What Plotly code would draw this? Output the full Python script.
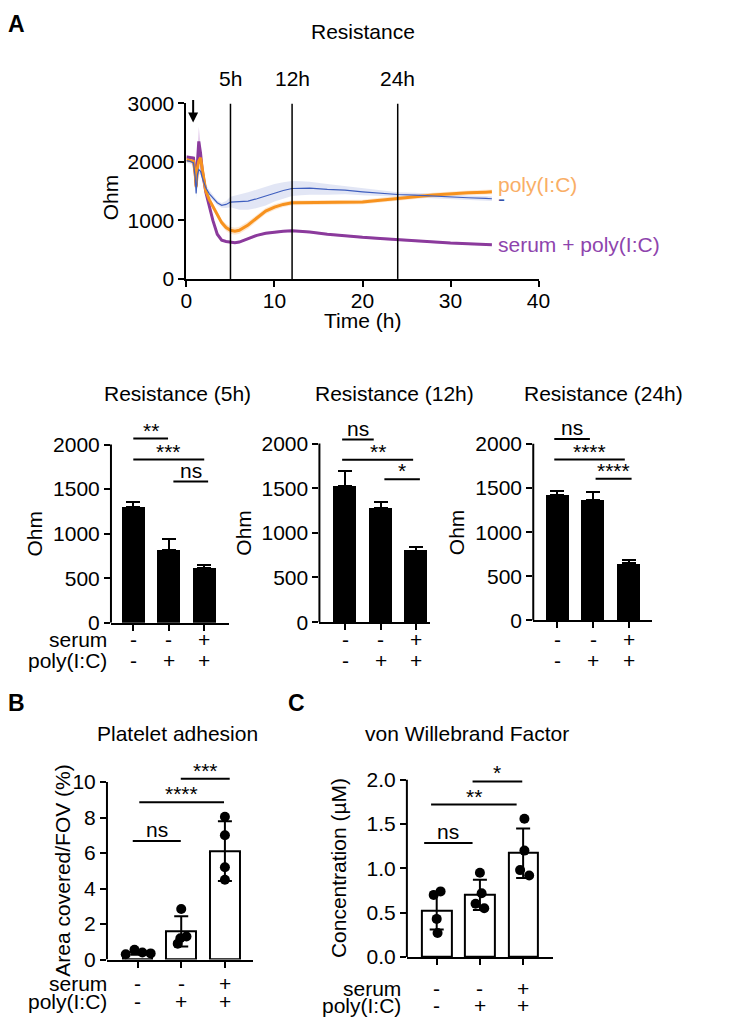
import plotly.graph_objects as go

W, H = 733, 1026
FONT = "Liberation Sans, Arial, Helvetica, sans-serif"
FS = 21
# The photographed page comes out slightly shrunk about its centre; positions
# taken from the reference are mapped through the inverse of that shrink.
SHRINK = 0.978
CX, CY = W / 2, H / 2

def px(x):
    return (CX + (x - CX) / SHRINK) / W

def py(y):
    return 1 - (CY + (y - CY) / SHRINK) / H

# ---------------- Panel A data (Resistance over time) ----------------
time_h = [0, 0.4, 0.8, 1.0, 1.1, 1.25, 1.4, 1.6, 1.8, 2.2, 2.6, 3.0, 3.5, 4.0, 4.5,
          5, 5.5, 6, 7, 8, 9, 10, 11, 12, 13, 14, 16, 18, 20, 22, 24, 26, 28, 30,
          32, 34, 34.7]
ctrl_mean = [2020, 2010, 1981, 1726, 1460, 1783, 1868, 1840, 1726, 1556, 1455, 1387,
             1302, 1257, 1273, 1313, 1319, 1313, 1330, 1370, 1415, 1472, 1511, 1545,
             1550, 1550, 1530, 1517, 1489, 1460, 1443, 1432, 1421, 1398, 1387, 1375,
             1370]
ctrl_sem = [40, 40, 40, 60, 80, 80, 80, 60, 60, 60, 60, 50, 40, 40, 60, 90, 110, 130,
            150, 160, 160, 150, 140, 130, 120, 110, 90, 70, 60, 50, 40, 40, 40, 40,
            40, 40, 40]
pic_mean = [2038, 2020, 2010, 1783, 1570, 1896, 2010, 2070, 1896, 1500, 1350, 1240,
            1104, 962, 877, 832, 815, 832, 922, 1047, 1160, 1228, 1273, 1300, 1302,
            1307, 1307, 1310, 1315, 1345, 1380, 1404, 1432, 1455, 1472, 1483, 1489]
pic_sem = [40, 40, 40, 50, 60, 60, 60, 50, 50, 50, 50, 50, 50, 55, 60, 60, 60, 60, 60,
           55, 50, 50, 45, 40, 40, 40, 40, 40, 40, 40, 40, 40, 40, 40, 40, 40, 40]
serpic_mean = [2083, 2080, 2066, 1800, 1594, 2000, 2350, 2150, 1850, 1480, 1250, 1000,
               764, 662, 640, 623, 617, 630, 690, 745, 780, 800, 815, 822, 812, 800,
               765, 735, 710, 690, 668, 651, 630, 612, 600, 590, 585]
serpic_sem = [30, 30, 30, 60, 100, 200, 250, 150, 80, 40, 30, 25, 20, 20, 20, 20, 20,
              20, 20, 20, 20, 20, 20, 20, 20, 20, 20, 20, 20, 20, 20, 20, 20, 20, 20,
              20, 20]
timepoints = [5, 12, 24]
timepoint_labels = ["5h", "12h", "24h"]
arrow_time = 0.76

# ---------------- Bar panels (A lower row) ----------------
groups = [0, 1, 2]
serum_signs = ["-", "-", "+"]
polyic_signs = ["-", "+", "+"]

res5_mean = [1296, 820, 615]
res5_err = [64, 124, 33]
res12_mean = [1522, 1276, 802]
res12_err = [176, 67, 37]
res24_mean = [1426, 1366, 649]
res24_err = [45, 94, 38]

sig5 = dict(x0=[0.0, 0.0, 1.13], x1=[0.98, 2.0, 2.11], level=[2067, 1831, 1584],
            label=["**", "***", "ns"])
sig12 = dict(x0=[-0.09, -0.09, 1.10], x1=[0.80, 1.91, 2.10], level=[2045, 1817, 1600],
             label=["ns", "**", "*"])
sig24 = dict(x0=[-0.09, -0.09, 1.07], x1=[0.91, 1.89, 2.08], level=[2056, 1822, 1604],
             label=["ns", "****", "****"])

# ---------------- Panel B (platelet adhesion) ----------------
plt_mean = [0.40, 1.59, 6.11]
plt_sd = [0.12, 0.85, 1.68]
plt_points = [[0.30, 0.55, 0.40, 0.35], [2.85, 1.30, 0.90, 1.20], [8.05, 7.00, 5.20, 4.50]]
plt_jitter = [[-0.27, -0.07, 0.11, 0.30], [0.0, 0.12, -0.08, -0.02], [0.0, 0.0, 0.0, 0.0]]
sigB = dict(x0=[-0.11, 0.04, 0.99], x1=[0.99, 1.98, 2.11], level=[6.68, 8.87, 10.19],
            label=["ns", "****", "***"])

# ---------------- Panel C (vWF) ----------------
vwf_mean = [0.52, 0.70, 1.17]
vwf_sd = [0.21, 0.17, 0.28]
vwf_points = [[0.74, 0.70, 0.43, 0.27], [0.95, 0.72, 0.60, 0.55], [1.56, 1.20, 0.98, 0.92]]
vwf_jitter = [[0.09, -0.07, 0.0, 0.02], [0.0, 0.04, -0.10, 0.10], [0.03, 0.03, -0.07, 0.14]]
sigC = dict(x0=[-0.29, -0.13, 0.83], x1=[0.83, 1.85, 1.98], level=[1.285, 1.72, 1.98],
            label=["ns", "**", "*"])

fig = go.Figure()
annotations = []
shapes = []


def ann(text, x, y, size=FS, xref="paper", yref="paper", xanchor="center",
        yanchor="middle", color="black", angle=0, bold=False, **kw):
    if bold:
        text = "<b>%s</b>" % text
    d = dict(text=text, x=x, y=y, xref=xref, yref=yref, xanchor=xanchor,
             yanchor=yanchor, showarrow=False, textangle=angle, borderpad=0,
             font=dict(family=FONT, size=size, color=color))
    d.update(kw)
    annotations.append(d)


# ---------------- Panel A line chart ----------------
series = [
    (ctrl_mean, ctrl_sem, "#3F5FBF", 1.2, "rgba(150,165,220,0.28)"),
    (pic_mean, pic_sem, "#F7921E", 3, "rgba(250,185,120,0.35)"),
    (serpic_mean, serpic_sem, "#8B3A9C", 3, "rgba(200,150,215,0.45)"),
]
for m, s, c, w, band in series:
    upper = [a + b for a, b in zip(m, s)]
    lower = [a - b for a, b in zip(m, s)]
    fig.add_trace(go.Scatter(x=time_h, y=upper, mode="lines", line=dict(width=0),
                             hoverinfo="skip", xaxis="x", yaxis="y"))
    fig.add_trace(go.Scatter(x=time_h, y=lower, mode="lines", line=dict(width=0),
                             fill="tonexty", fillcolor=band, hoverinfo="skip",
                             xaxis="x", yaxis="y"))
for m, s, c, w, band in [series[2], series[1], series[0]]:
    fig.add_trace(go.Scatter(x=time_h, y=m, mode="lines", line=dict(color=c, width=w),
                             xaxis="x", yaxis="y"))

for t, lab in zip(timepoints, timepoint_labels):
    shapes.append(dict(type="line", xref="x", yref="y", x0=t, x1=t, y0=0, y1=3000,
                       line=dict(color="black", width=1.5)))
    ann(lab, t, py(78), xref="x")

# end labels for series
ann("poly(I:C)", time_h[-1], pic_mean[-1], xref="x", yref="y", xanchor="left",
    color="#F9AE66", xshift=5, yshift=7)
ann("-", time_h[-1], ctrl_mean[-1], xref="x", yref="y", xanchor="left",
    color="#3450A8", xshift=5, yshift=0)
ann("serum + poly(I:C)", time_h[-1], serpic_mean[-1], xref="x", yref="y",
    xanchor="left", color="#8E44AD", xshift=5, yshift=0)

# arrow marking addition
annotations.append(dict(x=arrow_time, y=2675, xref="x", yref="y", showarrow=True,
                        ax=0, ay=-24, arrowhead=2, arrowsize=1, arrowwidth=2,
                        arrowcolor="black", text=""))

ann("Resistance", px(365.5), py(31))
ann("Time (h)", px(365.5), py(320))
ann("Ohm", px(113), py(197), angle=-90)
ann("A", px(18.5), py(23), size=23, bold=True)
ann("B", px(19), py(703), size=23, bold=True)
ann("C", px(299), py(703), size=23, bold=True)

axis_common = dict(showgrid=False, zeroline=False, ticks="outside", ticklen=6,
                   tickwidth=2, tickcolor="black", linecolor="black", linewidth=2,
                   tickfont=dict(family=FONT, size=FS, color="black"))

layout_axes = {}
layout_axes["xaxis"] = dict(axis_common, domain=[px(189), px(542)], range=[0, 40],
                            tickvals=[0, 10, 20, 30, 40], showline=True, anchor="y",
                            ticklabelstandoff=-4)
layout_axes["yaxis"] = dict(axis_common, domain=[py(278.3), py(102.7)], range=[0, 3000],
                            tickvals=[0, 1000, 2000, 3000], showline=True, anchor="x")


def bar_panel(n, xl, xr, yzero, ytop_px, ytop_val, yext, xrange, tickvals, tickfmt,
              ytitle, ytitle_x, title, title_x, title_y, row_y, row_labels,
              label_right):
    sc = (yzero - ytop_px) / ytop_val
    top = yzero - yext * sc
    layout_axes["xaxis%d" % n] = dict(axis_common, domain=[px(xl), px(xr)],
                                       range=xrange, tickvals=groups,
                                       showticklabels=False, showline=True,
                                       anchor="y%d" % n)
    layout_axes["yaxis%d" % n] = dict(axis_common, domain=[py(yzero), py(top)],
                                       range=[0, yext], tickvals=tickvals,
                                       tickformat=tickfmt, showline=False,
                                       anchor="x%d" % n)
    shapes.append(dict(type="line", xref="x%d domain" % n, yref="y%d" % n,
                       x0=0, x1=0, y0=0, y1=ytop_val,
                       line=dict(color="black", width=2)))
    ann(ytitle, px(ytitle_x), py((yzero + ytop_px) / 2), angle=-90)
    ann(title, px(title_x), py(title_y))
    for i, g in enumerate(groups):
        ann(serum_signs[i], g, py(row_y[0]), xref="x%d" % n)
        ann(polyic_signs[i], g, py(row_y[1]), xref="x%d" % n)
    if row_labels:
        ann("serum", px(label_right), py(row_y[0]), xanchor="right")
        ann("poly(I:C)", px(label_right), py(row_y[1]), xanchor="right")


def add_sig(n, sig):
    xs, ys = [], []
    for x0, x1, lv, lab in zip(sig["x0"], sig["x1"], sig["level"], sig["label"]):
        xs += [x0, x1, None]
        ys += [lv, lv, None]
        ann(lab, (x0 + x1) / 2, lv, xref="x%d" % n, yref="y%d" % n,
            yanchor="bottom", yshift=(-1 if lab == "ns" else -4))
    fig.add_trace(go.Scatter(x=xs, y=ys, mode="lines", line=dict(color="black", width=2),
                             xaxis="x%d" % n, yaxis="y%d" % n, hoverinfo="skip"))


def black_bars(n, mean, err):
    fig.add_trace(go.Bar(x=groups, y=mean, width=0.65,
                         marker=dict(color="black", line=dict(width=0)),
                         error_y=dict(type="data", array=err, arrayminus=[0, 0, 0],
                                      symmetric=False, color="black", thickness=2,
                                      width=7),
                         xaxis="x%d" % n, yaxis="y%d" % n))


# 5h
bar_panel(2, 113.3, 231.7, 622.3, 444, 2000, 2150, [-0.63, 2.70],
          [0, 500, 1000, 1500, 2000], None, "Ohm", 37, "Resistance (5h)", 180, 393,
          (639, 660), True, 110)
black_bars(2, res5_mean, res5_err)
add_sig(2, sig5)
# 12h
bar_panel(3, 322.3, 433, 621.7, 443, 2000, 2150, [-0.73, 2.38],
          [0, 500, 1000, 1500, 2000], None, "Ohm", 246.5, "Resistance (12h)", 397.5,
          393, (639, 660), False, 0)
black_bars(3, res12_mean, res12_err)
add_sig(3, sig12)
# 24h
bar_panel(4, 536.7, 656, 620, 443.3, 2000, 2150, [-0.68, 2.66],
          [0, 500, 1000, 1500, 2000], None, "Ohm", 459.3, "Resistance (24h)", 607.5,
          393, (639, 660), False, 0)
black_bars(4, res24_mean, res24_err)
add_sig(4, sig24)


def white_bars_points(n, mean, sd, points, jitter):
    fig.add_trace(go.Bar(x=groups, y=mean, width=0.68,
                         marker=dict(color="white", line=dict(color="black", width=2)),
                         error_y=dict(type="data", array=sd, color="black", thickness=2,
                                      width=7),
                         xaxis="x%d" % n, yaxis="y%d" % n))
    xs, ys = [], []
    for g, pts, jit in zip(groups, points, jitter):
        for p, j in zip(pts, jit):
            xs.append(g + j)
            ys.append(p)
    fig.add_trace(go.Scatter(x=xs, y=ys, mode="markers",
                             marker=dict(color="black", size=10),
                             xaxis="x%d" % n, yaxis="y%d" % n, cliponaxis=False))


# B
bar_panel(5, 109.3, 256, 959.3, 781.7, 10, 10.5, [-0.70, 2.65],
          [0, 2, 4, 6, 8, 10], None, "Area covered/FOV (%)", 65,
          "Platelet adhesion", 180, 733, (983, 1001.5), True, 110)
white_bars_points(5, plt_mean, plt_sd, plt_points, plt_jitter)
add_sig(5, sigB)
# C
bar_panel(6, 410, 556, 956.7, 779.3, 2.0, 2.1, [-0.69, 2.68],
          [0, 0.5, 1.0, 1.5, 2.0], ".1f", "Concentration (µM)", 341.7,
          "von Willebrand Factor", 470, 733, (988, 1005), True, 405.5)
white_bars_points(6, vwf_mean, vwf_sd, vwf_points, vwf_jitter)
add_sig(6, sigC)

fig.update_layout(width=W, height=H, margin=dict(l=0, r=0, t=0, b=0),
                  paper_bgcolor="white", plot_bgcolor="white", showlegend=False,
                  bargap=0, annotations=annotations, shapes=shapes,
                  font=dict(family=FONT, size=FS, color="black"), **layout_axes)

fig.write_html("out.html", config={"displayModeBar": False},
               post_script="document.body.style.margin='0';")
